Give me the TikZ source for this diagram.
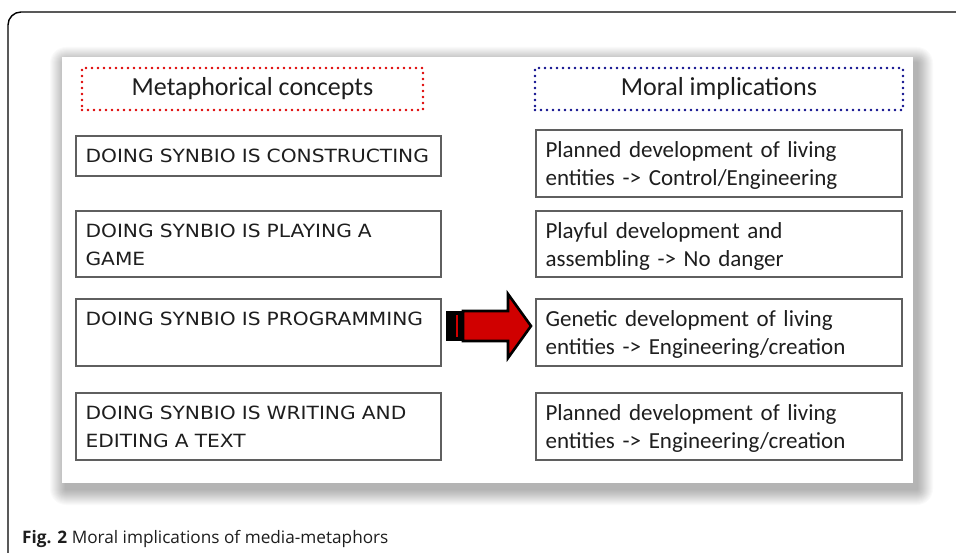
\documentclass[tikz,border=0pt]{standalone}
\usepackage{fontspec}
\setmainfont{Carlito}
\newfontfamily\boxfont[FakeStretch=1.11]{DejaVu Sans}
\newfontfamily\capfont{Open Sans}

\definecolor{txt}{RGB}{30,30,30}
\definecolor{boxline}{RGB}{95,95,95}
\definecolor{dotred}{RGB}{222,0,0}
\definecolor{dotblue}{RGB}{10,10,140}
\definecolor{arrowred}{RGB}{208,0,0}

\tikzset{
  frameline/.style={line width=1.4pt, black, rounded corners=13pt},
  header/.style={line width=2.8pt, line cap=round, dash pattern=on 0pt off 6pt,
    minimum height=42pt, inner sep=0pt, text=txt,
    font=\fontsize{26pt}{30pt}\selectfont},
  cbox/.style={draw=boxline, line width=1.3pt, fill=white, inner sep=0pt},
  ltext/.style={anchor=base west, inner sep=0pt, text width=350pt, align=left,
    text=txt, font=\boxfont\fontsize{18.2pt}{28pt}\selectfont},
  rtext/.style={anchor=base west, inner sep=0pt, text width=355pt, align=left,
    text=txt, font=\fontsize{23pt}{27.5pt}\selectfont},
}

\begin{document}
\begin{tikzpicture}[x=1pt,y=-1pt]
\useasboundingbox (0,0) rectangle (956,553);
\fill[white] (0,0) rectangle (956,553);

% open figure frame: left and top edges only
\draw[frameline] (8,560) -- (8,12) -- (970,12);

% soft drop shadow behind the panel
\foreach \r in {16,15,...,1}
  \fill[black, opacity=0.019, rounded corners={\r pt}]
    ({62+4-\r},{57+6-\r}) rectangle ({913+4+\r},{483+6+\r});
\fill[white] (62,57) rectangle (913,483);

% column headers
\node[header, draw=dotred, minimum width=341pt] (hl) at (252.5,89) {Metaphorical concepts};
\node[header, draw=dotblue, minimum width=368pt] (hr) at (719,89) {Moral implications};

% metaphor boxes
\node[cbox, minimum width=365pt, minimum height=40pt] (l1) at (258.5,156) {};
\node[cbox, minimum width=365pt, minimum height=66pt] (l2) at (258.5,244) {};
\node[cbox, minimum width=365pt, minimum height=67pt] (l3) at (258.5,332.5) {};
\node[cbox, minimum width=365pt, minimum height=67pt] (l4) at (258.5,426.5) {};

\node[ltext, xshift=10pt, yshift=-27pt] (lt1) at (l1.north west) {DOING SYNBIO IS CONSTRUCTING};
\node[ltext, xshift=10pt, yshift=-27pt] (lt2) at (l2.north west) {DOING SYNBIO IS PLAYING A\\GAME};
\node[ltext, xshift=10pt, yshift=-27pt] (lt3) at (l3.north west) {DOING SYNBIO IS PROGRAMMING};
\node[ltext, xshift=10pt, yshift=-27pt] (lt4) at (l4.north west) {DOING SYNBIO IS WRITING AND\\EDITING A TEXT};

% implication boxes
\node[cbox, minimum width=366pt, minimum height=67pt] (r1) at (719,163.5) {};
\node[cbox, minimum width=366pt, minimum height=66pt] (r2) at (719,244) {};
\node[cbox, minimum width=366pt, minimum height=67pt] (r3) at (719,332.5) {};
\node[cbox, minimum width=366pt, minimum height=67pt] (r4) at (719,426.5) {};

\node[rtext, xshift=10pt, yshift=-28.5pt] (rt1) at (r1.north west) {Planned development of living\\entities -> Control/Engineering};
\node[rtext, xshift=10pt, yshift=-28.5pt] (rt2) at (r2.north west) {Playful development and\\assembling -> No danger};
\node[rtext, xshift=10pt, yshift=-28.5pt] (rt3) at (r3.north west) {Genetic development of living\\entities -> Engineering/creation};
\node[rtext, xshift=10pt, yshift=-28.5pt] (rt4) at (r4.north west) {Planned development of living\\entities -> Engineering/creation};

% striped block arrow from the programming metaphor to its implication
\fill[black] (446,311) rectangle (463,341);
\fill[arrowred] (455.8,315) rectangle (458.2,337);
\draw[black, fill=arrowred, line width=2.6pt, line join=miter]
  (463,311) -- (508,311) -- (508,294) -- (531,326) -- (508,358) -- (508,341) -- (463,341) -- cycle;

% caption
\node[anchor=base west, inner sep=0pt, text=txt,
  font=\capfont\fontsize{17.2pt}{20pt}\selectfont] (cap) at (22,543)
  {\textbf{Fig. 2} Moral implications of media-metaphors};
\end{tikzpicture}
\end{document}
